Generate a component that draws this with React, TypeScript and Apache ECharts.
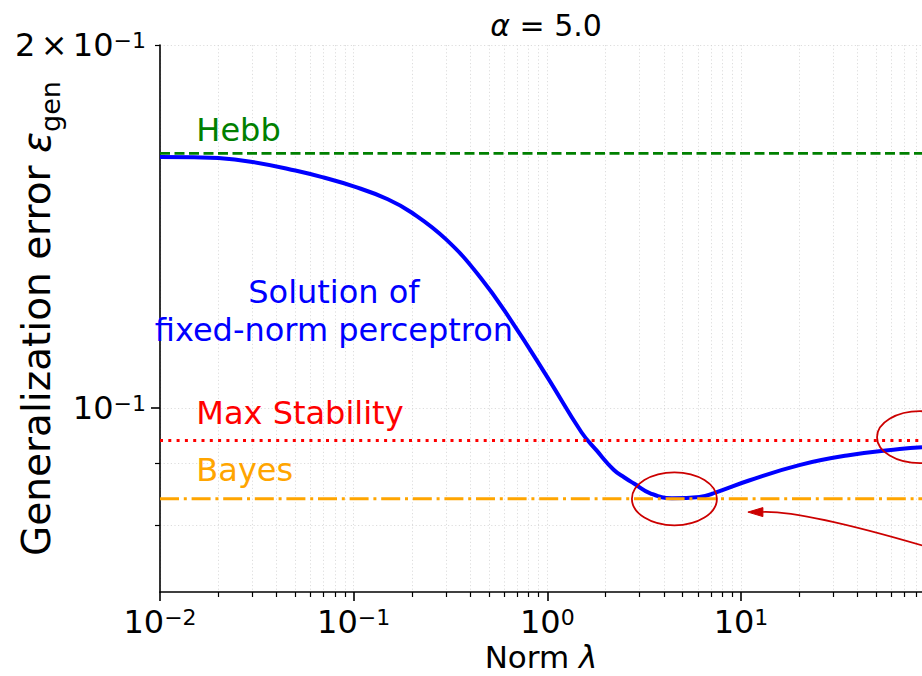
import React, { useEffect, useRef } from "react";
import * as echarts from "echarts";

// ---- data ----
const lambdaValues = [0.01, 0.015, 0.02, 0.03, 0.05, 0.07, 0.1, 0.15, 0.2, 0.3, 0.45, 0.65, 1.0, 1.5, 1.8, 2.2, 2.5, 2.8, 3.4, 4.4, 6.1, 7.5, 11, 20, 36, 66, 86];
const errorValues = [0.1615, 0.1614, 0.1612, 0.16, 0.1574, 0.1553, 0.1527, 0.149, 0.1452, 0.138, 0.1284, 0.1182, 0.1061, 0.0955, 0.0922, 0.0889, 0.0876, 0.0866, 0.085, 0.0842, 0.0844, 0.0852, 0.0871, 0.0897, 0.0914, 0.0925, 0.0928];

const hebbError = 0.1626;
const maxStabilityError = 0.094;
const bayesError = 0.0841;

const xMin = 0.01;
const xMax = 86;
const yMin = 0.0704;
const yMax = 0.2;

const xMajorTicks = [0.01, 0.1, 1, 10];
const xMinorTicks = [
  0.02, 0.03, 0.04, 0.05, 0.06, 0.07, 0.08, 0.09,
  0.2, 0.3, 0.4, 0.5, 0.6, 0.7, 0.8, 0.9,
  2, 3, 4, 5, 6, 7, 8, 9,
  20, 30, 40, 50, 60, 70, 80,
];
const yLabelTicks = [0.1, 0.2];
const yMajorTicks = [0.1];
const yMinorTicks = [0.08, 0.09, 0.2];

const titleText = "{i|α} = 5.0";
const xName = "Norm {i|λ}";
const yName = "Generalization error {i|ε}{sub|gen}";

// annotation anchors (data coordinates)
const hebbLabelPos = [0.0154, 0.170];
const maxStabLabelPos = [0.0154, 0.0991];
const bayesLabelPos = [0.0154, 0.0888];
const solutionLine1Pos = [0.0791, 0.1248];
const solutionLine2Pos = [0.0791, 0.116];
const minEllipseCenter = [4.53, 0.0841];
const rightEllipseCenter = [84, 0.0946];
const arrowTip = [10.85, 0.082];
const arrowCtrl = [21.5, 0.0825];
const arrowStart = [150, 0.0749];

const FONT = "DejaVu Sans";
const ANNOT_RED = "#cc0000";

const gridLine = {
  show: true,
  lineStyle: { color: "#d4d4d4", width: 0.8, type: [1.2, 2.4] as any },
};

const supRich = {
  b: { fontFamily: FONT, fontSize: 32, color: "#000", lineHeight: 32, verticalAlign: "bottom" as any },
  s: { fontFamily: FONT, fontSize: 22, color: "#000", lineHeight: 22, verticalAlign: "top" as any },
};

function logLabel(v: number): string {
  const e = Math.round(Math.log10(v));
  const mant = v / Math.pow(10, e);
  const exp = e < 0 ? "\u2212" + Math.abs(e) : String(e);
  if (Math.abs(mant - 1) < 1e-6) return `{b|10}{s|${exp}}`;
  return `{b|${Math.round(mant)}\u2006×\u200610}{s|${exp}}`;
}

export default function App() {
  const ref = useRef<HTMLDivElement>(null);

  useEffect(() => {
    document.body.style.margin = "0";
    if (!ref.current) return;
    const chart = echarts.init(ref.current, undefined, { renderer: "svg" });

    const hline = (v: number, color: string, type: any, width: number) => ({
      type: "line",
      data: [[xMin, v], [xMax, v]],
      symbol: "none",
      silent: true,
      lineStyle: { color, width, type, cap: "butt" },
      z: 3,
    });

    const option: any = {
      animation: false,
      backgroundColor: "#fff",
      textStyle: { fontFamily: FONT },
      title: {
        text: titleText,
        left: 541,
        top: 5,
        textAlign: "center",
        textStyle: {
          fontFamily: FONT,
          fontSize: 30,
          fontWeight: "normal",
          color: "#000",
          rich: {
            i: { fontFamily: FONT, fontSize: 30, fontStyle: "italic", color: "#000" },
          },
        },
      },
      grid: { left: 160, top: 45, right: 0, bottom: 84, containLabel: false, outerBoundsMode: "none" },
      xAxis: [
        {
          type: "log",
          logBase: 10,
          min: xMin,
          max: xMax,
          position: "bottom",
          axisLine: { show: true, onZero: false, lineStyle: { color: "#000", width: 1.6 } },
          axisTick: { show: true, customValues: xMajorTicks, length: 9, lineStyle: { color: "#000", width: 1.6 } },
          axisLabel: {
            show: true,
            customValues: xMajorTicks,
            formatter: logLabel,
            margin: 14,
            rich: supRich,
          },
          splitLine: gridLine,
          minorTick: { show: false },
          name: xName,
          nameLocation: "middle",
          nameGap: 50,
          nameMoveOverlap: false,
          nameTextStyle: {
            fontFamily: FONT,
            fontSize: 31,
            lineHeight: 29,
            color: "#000",
            rich: { i: { fontFamily: FONT, fontSize: 31, lineHeight: 29, fontStyle: "italic", color: "#000" } },
          },
        },
        {
          type: "log",
          logBase: 10,
          min: xMin,
          max: xMax,
          position: "bottom",
          axisLine: { show: false, onZero: false },
          axisTick: { show: true, customValues: xMinorTicks, length: 5, lineStyle: { color: "#000", width: 1.2 } },
          axisLabel: { show: false },
          splitLine: gridLine,
        },
      ],
      yAxis: [
        {
          type: "log",
          logBase: 10,
          min: yMin,
          max: yMax,
          position: "left",
          axisLine: { show: true, onZero: false, lineStyle: { color: "#000", width: 1.6 } },
          axisTick: { show: true, customValues: yMajorTicks, length: 9, lineStyle: { color: "#000", width: 1.6 } },
          axisLabel: {
            show: true,
            customValues: yLabelTicks,
            formatter: logLabel,
            margin: 14,
            rich: supRich,
          },
          splitLine: gridLine,
          name: yName,
          nameLocation: "middle",
          nameGap: 104,
          nameMoveOverlap: false,
          nameTextStyle: {
            fontFamily: FONT,
            fontSize: 39,
            color: "#000",
            rich: {
              i: { fontFamily: FONT, fontSize: 39, fontStyle: "italic", color: "#000" },
              sub: { fontFamily: FONT, fontSize: 27, color: "#000", verticalAlign: "bottom", lineHeight: 27, padding: [0, 0, -8, 0] },
            },
          },
        },
        {
          type: "log",
          logBase: 10,
          min: yMin,
          max: yMax,
          position: "left",
          axisLine: { show: false, onZero: false },
          axisTick: { show: true, customValues: yMinorTicks, length: 5, lineStyle: { color: "#000", width: 1.2 } },
          axisLabel: { show: false },
          splitLine: gridLine,
        },
      ],
      series: [
        {
          type: "line",
          name: "fixed-norm",
          data: lambdaValues.map((l, i) => [l, errorValues[i]]),
          symbol: "none",
          smooth: 0.45,
          lineStyle: { color: "#0000ff", width: 4 },
          z: 2,
        },
        hline(hebbError, "#008000", [10, 4.5], 2.8),
        hline(maxStabilityError, "#ff0000", [3, 5.3], 3),
        hline(bayesError, "#ffa500", [19, 4.8, 3, 4.8], 3),
      ],
    };

    chart.setOption(option);

    const px = (p: number[]) => chart.convertToPixel({ xAxisIndex: 0, yAxisIndex: 0 }, p) as number[];
    const hebbP = px(hebbLabelPos);
    const msP = px(maxStabLabelPos);
    const bayP = px(bayesLabelPos);
    const sol1 = px(solutionLine1Pos);
    const sol2 = px(solutionLine2Pos);
    const e1 = px(minEllipseCenter);
    const e2 = px(rightEllipseCenter);
    const tip = px(arrowTip);
    const ctrl = px(arrowCtrl);
    const start = px(arrowStart);

    const textStyle = (color: string) => ({ fill: color, fontFamily: FONT, fontSize: 32, lineHeight: 30, align: "left", verticalAlign: "middle" });

    chart.setOption({
      graphic: [
        { type: "text", x: hebbP[0], y: hebbP[1], style: { ...textStyle("#008000"), text: "Hebb" }, z: 10 },
        { type: "text", x: msP[0], y: msP[1], style: { ...textStyle("#ff0000"), text: "Max Stability" }, z: 10 },
        { type: "text", x: bayP[0], y: bayP[1], style: { ...textStyle("#ffa500"), text: "Bayes" }, z: 10 },
        { type: "text", x: sol1[0], y: sol1[1], style: { ...textStyle("#0000ff"), text: "Solution of", align: "center" }, z: 10 },
        { type: "text", x: sol2[0], y: sol2[1], style: { ...textStyle("#0000ff"), text: "fixed-norm perceptron", align: "center" }, z: 10 },
        { type: "ellipse", shape: { cx: e1[0], cy: e1[1], rx: 42.5, ry: 26.5 }, style: { fill: "none", stroke: ANNOT_RED, lineWidth: 1.8 }, z: 10 },
        { type: "ellipse", shape: { cx: e2[0], cy: e2[1], rx: 43, ry: 26 }, style: { fill: "none", stroke: ANNOT_RED, lineWidth: 1.8 }, z: 10 },
        {
          type: "bezierCurve",
          shape: { x1: start[0], y1: start[1], x2: tip[0] + 12, y2: tip[1], cpx1: ctrl[0], cpy1: ctrl[1] },
          style: { fill: "none", stroke: ANNOT_RED, lineWidth: 1.6 },
          z: 10,
        },
        {
          type: "polygon",
          shape: { points: [[tip[0], tip[1]], [tip[0] + 15, tip[1] - 4.5], [tip[0] + 15, tip[1] + 4.5]] },
          style: { fill: ANNOT_RED, stroke: ANNOT_RED, lineWidth: 1 },
          z: 10,
        },
      ],
    });

    return () => chart.dispose();
  }, []);

  return <div ref={ref} style={{ width: 922, height: 676 }} />;
}
